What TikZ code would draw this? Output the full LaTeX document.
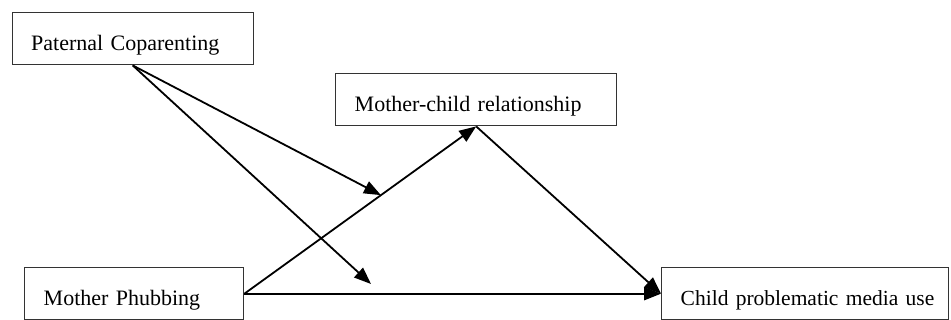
\documentclass[tikz,border=0pt]{standalone}
\usepackage{fontspec}
\setmainfont{Liberation Serif}
\usetikzlibrary{arrows.meta,calc}
\tikzset{
  varbox/.style={draw=black!80, line width=1.4pt, fill=white, anchor=north west,
    inner xsep=19pt, inner ysep=0pt, text height=38pt, text depth=14pt,
    align=left, font=\fontsize{22}{26}\selectfont},
  link/.style={line width=1.8pt, -{Triangle[length=17pt,width=13pt]}}
}
\begin{document}
\begin{tikzpicture}[x=1pt,y=-1pt]
\useasboundingbox (0,0) rectangle (951,320);
\node[varbox, text width=203pt] (pc) at (11.5,12) {\mbox{Paternal Coparenting}};
\node[varbox, text width=243pt] (mcr) at (335,73) {\mbox{Mother-child relationship}};
\node[varbox, text width=181pt] (mp) at (24,267) {\mbox{Mother Phubbing}};
\node[varbox, text width=249pt] (cpmu) at (661,267) {\mbox{\fontsize{21.5}{26}\selectfont Child problematic media use}};
\coordinate (m1) at ($(mp.east)!0.589!(mcr.south)$);
\coordinate (m2) at (371,284);
\draw[link] (mp.east) -- (mcr.south);
\draw[link] (mcr.south) -- (cpmu.west);
\draw[link] (mp.east) -- (cpmu.west);
\draw[link] (pc.south) -- (m1);
\draw[link] (pc.south) -- (m2);
\end{tikzpicture}
\end{document}
